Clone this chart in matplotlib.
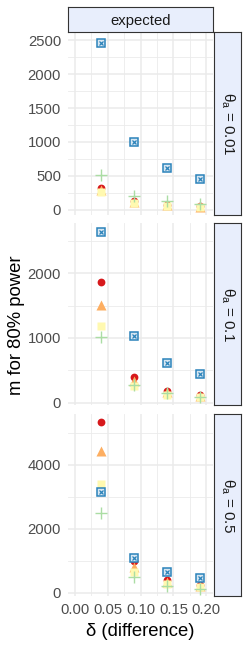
import numpy as np
import matplotlib
matplotlib.use("Agg")
import matplotlib.pyplot as plt

plt.rcParams['font.family'] = ['Liberation Sans', 'DejaVu Sans']
plt.rcParams['mathtext.fontset'] = 'custom'
plt.rcParams['mathtext.rm'] = 'Liberation Sans'

# data
delta = [0.04, 0.09, 0.14, 0.19]
theta_labels = ["0.01", "0.1", "0.5"]

red = [[330, 125, 75, 55], [1860, 400, 185, 120], [5340, 990, 395, 240]]
orange = [[295, 115, 70, 50], [1505, 330, 160, 100], [4430, 790, 340, 200]]
yellow = [[265, 100, 60, 45], [1180, 250, 125, 80], [3390, 650, 280, 165]]
green = [[510, 205, 130, 90], [1010, 275, 145, 95], [2480, 480, 220, 115]]
blue = [[2460, 1005, 620, 450], [2645, 1025, 618, 445], [3160, 1075, 637, 470]]

ylims = [(-74, 2618), (-36, 2777), (-103, 5584)]
yticks = [np.arange(0, 2501, 500), [0, 1000, 2000], [0, 2000, 4000]]

W, H = 250, 650
fig = plt.figure(figsize=(W / 100, H / 100), dpi=100)

left, right = 68, 213
panels = [(32, 215), (223, 405), (414, 596)]
strip_fill = '#e8eefc'
strip_edge = '#333333'

def frac(x0, y0, x1, y1):
    return [x0 / W, 1 - y1 / H, (x1 - x0) / W, (y1 - y0) / H]

for i, (top, bot) in enumerate(panels):
    ax = fig.add_axes(frac(left, top, right, bot))
    ax.set_xlim(-0.01, 0.21)
    ax.set_ylim(*ylims[i])
    for s in ax.spines.values():
        s.set_visible(False)
    ax.set_xticks(np.arange(0, 0.201, 0.05))
    ax.set_xticks(np.arange(0.025, 0.2, 0.05), minor=True)
    yt = np.array(yticks[i])
    step = yt[1] - yt[0]
    ax.set_yticks(yt)
    mn = np.arange(yt[0] + step / 2, ylims[i][1], step)
    ax.set_yticks(mn, minor=True)
    ax.grid(True, which='major', color='#ebebeb', lw=1.1)
    ax.grid(True, which='minor', color='#ebebeb', lw=0.6)
    ax.set_axisbelow(True)
    ax.tick_params(which='both', length=0, labelsize=10.7, labelcolor='#4d4d4d', pad=5)
    if i < 2:
        ax.tick_params(axis='x', labelbottom=False)
    else:
        ax.set_xticklabels(["0.00", "0.05", "0.10", "0.15", "0.20"])

    ax.plot(delta, red[i], 'o', color='#d7191c', ms=5.6, mec='none')
    ax.plot(delta, orange[i], '^', color='#fdae61', ms=6.6, mec='none')
    ax.plot(delta, yellow[i], 's', color='#fff9b0', ms=5.4, mec='none')
    ax.plot(delta, green[i], '+', color='#abdda4', ms=8, mew=1.0)
    ax.plot(delta, blue[i], 's', mfc='#d6e6f2', mec='#2b83ba', ms=5.6, mew=1.1)
    ax.plot(delta, blue[i], 'x', color='#2b83ba', ms=3.4, mew=0.9)

    # right strip
    sax = fig.add_axes(frac(right + 1, top, 241, bot))
    sax.set_xticks([]); sax.set_yticks([])
    sax.set_facecolor(strip_fill)
    for s in sax.spines.values():
        s.set_color(strip_edge)
        s.set_linewidth(0.8)
    sax.text(0.5, 0.5, "θ$_\\mathregular{a}$ = " + theta_labels[i], rotation=-90,
             ha='center', va='center', fontsize=11, color='#1a1a1a',
             transform=sax.transAxes)

# top strip
tax = fig.add_axes(frac(left, 7, right, 32))
tax.set_xticks([]); tax.set_yticks([])
tax.set_facecolor(strip_fill)
for s in tax.spines.values():
    s.set_color(strip_edge)
    s.set_linewidth(0.8)
tax.text(0.5, 0.45, "expected", ha='center', va='center', fontsize=10.7,
         color='#1a1a1a', transform=tax.transAxes)

fig.text(17 / W, 1 - 325 / H, "m for 80% power", rotation=90, ha='center',
         va='center', fontsize=13.3)
fig.text((left + right) / 2 / W, 1 - 632 / H, "δ (difference)", ha='center',
         va='center', fontsize=13.3)

fig.savefig("out.png", dpi=100)
